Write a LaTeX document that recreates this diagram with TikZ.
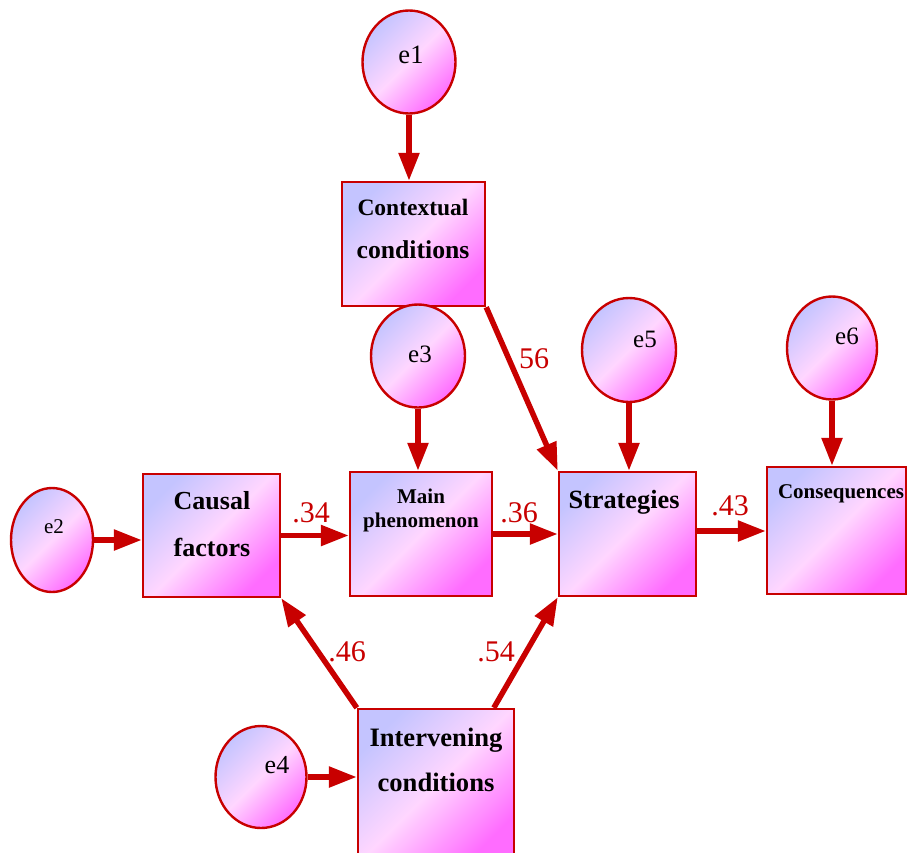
\documentclass[tikz,border=0pt]{standalone}
\usepackage{fontspec}
\setmainfont{Liberation Serif}
\usetikzlibrary{shapes.geometric,arrows.meta,calc}
\definecolor{dred}{RGB}{200,0,0}
\definecolor{lav}{RGB}{196,196,255}
\definecolor{pnk}{RGB}{255,214,255}
\definecolor{mag}{RGB}{255,108,255}
\newcommand{\fsz}[1]{\fontsize{#1}{#1}\selectfont}
\begin{document}
\begin{tikzpicture}[x=1pt,y=-1pt,
  gfill/.style={top color=lav,bottom color=mag,middle color=pnk,shading angle=45},
  box/.style={rectangle,draw=dred,line width=2.4pt,gfill,inner sep=0pt},
  err/.style={ellipse,draw=dred,line width=2.4pt,gfill,inner sep=0pt},
  arr/.style={draw=dred,line width=5.5pt,-{Triangle[length=28pt,width=20pt]}},
  btxt/.style={anchor=base,font=\bfseries,inner sep=0pt},
  etxt/.style={anchor=base,inner sep=0pt},
  coef/.style={anchor=base,text=dred,inner sep=0pt,font=\fsz{30}}]
\clip (0,0) rectangle (907,852);
\useasboundingbox (0,0) rectangle (907,852);
% boxes
\node[box,minimum width=143pt,minimum height=124pt] (ctx) at (413.5,244) {};
\node[box,minimum width=137pt,minimum height=123pt] (cau) at (211.5,535.5) {};
\node[box,minimum width=142pt,minimum height=124pt] (mai) at (421,534) {};
\node[box,minimum width=137pt,minimum height=124pt] (str) at (627.5,534) {};
\node[box,minimum width=139pt,minimum height=127pt] (con) at (836.5,530.5) {};
\node[box,minimum width=156pt,minimum height=152pt] (int) at (436,785) {};
% error ellipses
\node[err,minimum width=93pt,minimum height=103pt] (e1) at (409,62) {};
\node[err,minimum width=82pt,minimum height=104pt] (e2) at (52,540) {};
\node[err,minimum width=94pt,minimum height=103pt] (e3) at (418,356) {};
\node[err,minimum width=91pt,minimum height=102pt] (e4) at (261,777) {};
\node[err,minimum width=94pt,minimum height=104pt] (e5) at (629,350) {};
\node[err,minimum width=90pt,minimum height=103pt] (e6) at (832,348) {};
% box texts
\node[btxt,font=\bfseries\fsz{23.5}] (tctx1) at (413,215) {Contextual};
\node[btxt,font=\bfseries\fsz{25.7}] (tctx2) at (413,258) {conditions};
\node[btxt,font=\bfseries\fsz{26}] (tcau1) at (212,509) {Causal};
\node[btxt,font=\bfseries\fsz{26}] (tcau2) at (212,556) {factors};
\node[btxt,font=\bfseries\fsz{21}] (tmai1) at (421,503) {Main};
\node[btxt,font=\bfseries\fsz{21}] (tmai2) at (421,527) {phenomenon};
\node[btxt,font=\bfseries\fsz{26.3}] (tstr) at (624,508) {Strategies};
\node[btxt,font=\bfseries\fsz{21}] (tcon) at (841,498) {Consequences};
\node[btxt,font=\bfseries\fsz{26.6}] (tint1) at (436,746) {Intervening};
\node[btxt,font=\bfseries\fsz{26.6}] (tint2) at (436,791) {conditions};
% error texts
\node[etxt,font=\fsz{26.5}] (te1) at (411,63) {e1};
\node[etxt,font=\fsz{21}] (te2) at (54,533) {e2};
\node[etxt,font=\fsz{25}] (te3) at (420,362) {e3};
\node[etxt,font=\fsz{26}] (te4) at (277,773) {e4};
\node[etxt,font=\fsz{25}] (te5) at (645,347) {e5};
\node[etxt,font=\fsz{25}] (te6) at (847,344) {e6};
% arrows
\draw[arr] (e1.south) -- (e1.south |- ctx.north);
\draw[arr] (e3.south) -- (e3.south |- mai.north);
\draw[arr] (e5.south) -- (e5.south |- str.north);
\draw[arr] (e6.south) -- (e6.south |- con.north);
\draw[arr] (e2.east) -- (e2.east -| cau.west);
\draw[arr] (e4.east) -- (e4.east -| int.west);
\draw[arr] (cau.east) -- (cau.east -| mai.west);
\draw[arr] (mai.east) -- (mai.east -| str.west);
\draw[arr] ($(str.east)+(0,-3)$) -- ($(str.east -| con.west)+(0,-3)$);
\draw[arr] (ctx.south east) -- (str.north west);
\draw[arr] (int.north west) -- (cau.south east);
\draw[arr] ($(int.north west)!0.865!(int.north east)$) -- (str.south west);
% coefficients
\node[coef] (c34) at (311,522) {.34};
\node[coef] (c36) at (519,522) {.36};
\node[coef] (c43) at (730,515) {.43};
\node[coef] (c56) at (534,368) {56};
\node[coef] (c46) at (347,661) {.46};
\node[coef] (c54) at (496,661) {.54};
\end{tikzpicture}
\end{document}
